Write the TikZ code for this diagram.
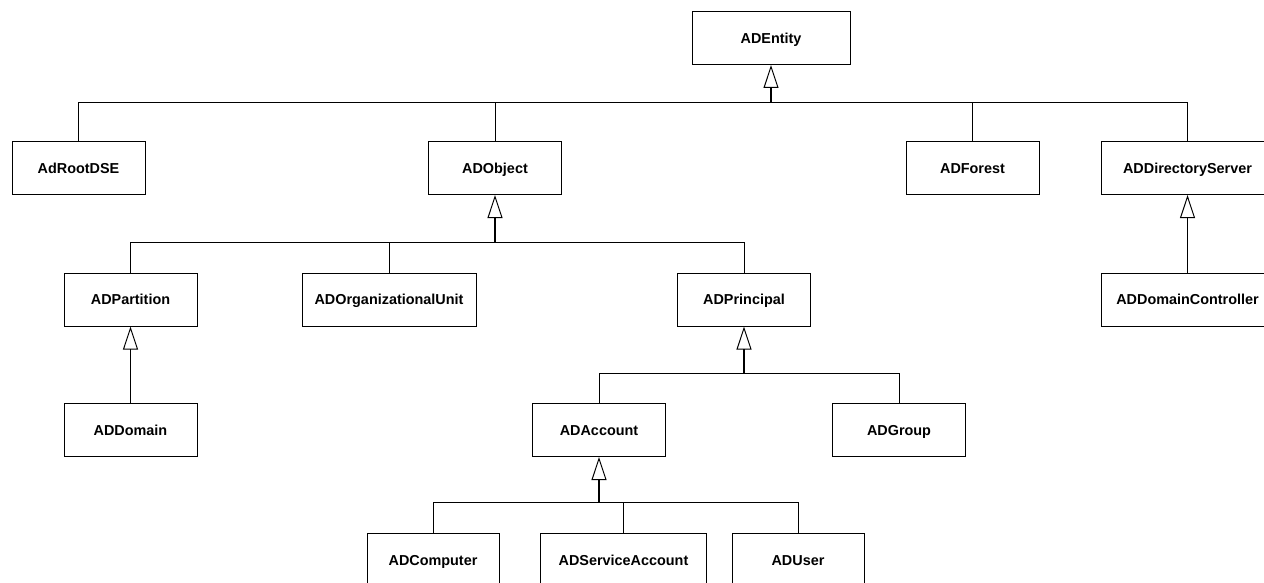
\documentclass[tikz,border=0pt]{standalone}
\usepackage{fontspec}
\setmainfont{Liberation Sans}
\usetikzlibrary{arrows.meta, calc}

\tikzset{
    classbox/.style={draw, line width=1pt, minimum width=133pt, minimum height=53pt,
                     inner sep=0pt, text height=10.3pt, text depth=0pt,
                     font=\fontsize{14.4}{17}\selectfont\bfseries},
    inherit/.style={line width=1.3pt, -{Triangle[open, length=23pt, width=15pt, line width=1pt]}},
    branch/.style={line width=1pt}
}

\begin{document}
\begin{tikzpicture}[x=1pt, y=-1pt]
            \clip (0,0) rectangle (1264,583);

            \node[classbox, minimum width=158pt] (entity) at (771,38) {ADEntity};
            \node[classbox] (rootdse) at (78.5,168) {AdRootDSE};
            \node[classbox] (object) at (495,168) {ADObject};
            \node[classbox] (forest) at (972.5,168) {ADForest};
            \node[classbox, minimum width=173pt] (dirserver) at (1187.5,168) {ADDirectoryServer};
            \node[classbox] (partition) at (130.5,299.5) {ADPartition};
            \node[classbox, minimum width=174pt] (orgunit) at (389,299.5) {ADOrganizationalUnit};
            \node[classbox] (principal) at (744,299.5) {ADPrincipal};
            \node[classbox, minimum width=173pt] (domctrl) at (1187.5,299.5) {ADDomainController};
            \node[classbox] (domain) at (130.5,430) {ADDomain};
            \node[classbox] (account) at (599,430) {ADAccount};
            \node[classbox] (group) at (899,430) {ADGroup};
            \node[classbox, minimum width=132pt] (computer) at (433,560) {ADComputer};
            \node[classbox, minimum width=166pt] (svcaccount) at (623.5,560) {ADServiceAccount};
            \node[classbox, minimum width=132pt] (user) at (798,560) {ADUser};

            \coordinate (entitybus) at (771,103);
            \coordinate (objectbus) at (495,242);
            \coordinate (principalbus) at (744,373);
            \coordinate (accountbus) at (599,502);

            \foreach \child in {rootdse, object, forest, dirserver}
                \draw[branch] (\child.north) |- (entitybus);
            \draw[inherit] (entitybus) -- (entity.south);

            \foreach \child in {partition, orgunit, principal}
                \draw[branch] (\child.north) |- (objectbus);
            \draw[inherit] (objectbus) -- (object.south);

            \foreach \child in {account, group}
                \draw[branch] (\child.north) |- (principalbus);
            \draw[inherit] (principalbus) -- (principal.south);

            \foreach \child in {computer, svcaccount, user}
                \draw[branch] (\child.north) |- (accountbus);
            \draw[inherit] (accountbus) -- (account.south);

            \draw[inherit] (domain.north) -- (partition.south);
            \draw[inherit] (domctrl.north) -- (dirserver.south);
        \end{tikzpicture}
\end{document}
